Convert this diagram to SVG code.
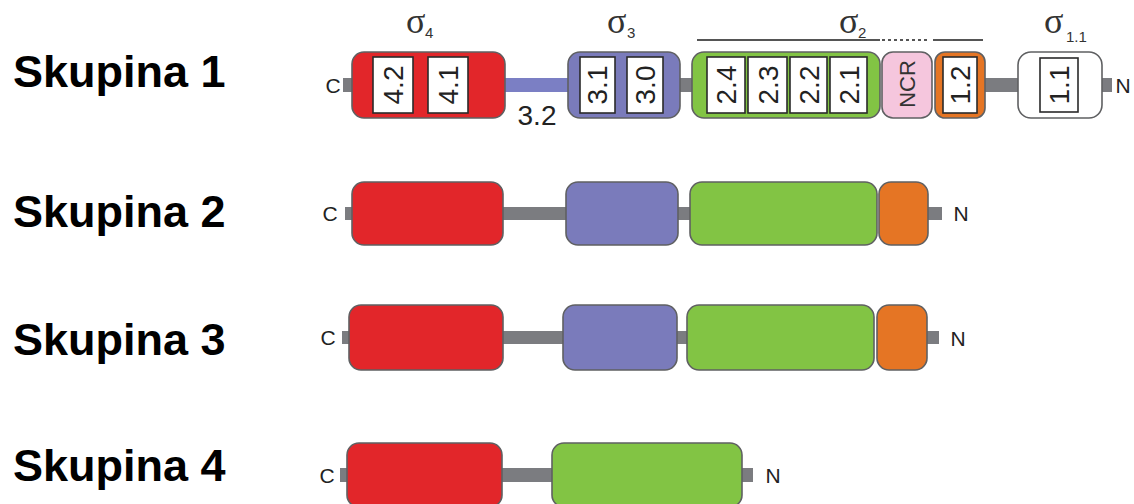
<svg xmlns="http://www.w3.org/2000/svg" width="1134" height="504" viewBox="0 0 1134 504">
<style>
.lbl{font-family:"Liberation Sans",Arial,sans-serif;font-weight:bold;font-size:45px;fill:#000}
.term{font-family:"Liberation Sans",Arial,sans-serif;font-size:21px;fill:#222}
.dom{stroke:#5f6062;stroke-width:1.6}
.red{fill:#e2262a}.blue{fill:#7a7bbb}.green{fill:#82c444}.orange{fill:#e57524}.pink{fill:#f5c6dd}.white{fill:#fff}
.link{fill:#7b7c80}
.sub{fill:#fff;stroke:#2a2a2a;stroke-width:1.6}
.num{font-family:"Liberation Sans",Arial,sans-serif;font-size:28px;fill:#222}
.ncr{font-family:"Liberation Sans",Arial,sans-serif;font-size:22px;fill:#333}
.sig{font-family:"Liberation Serif","Times New Roman",serif;font-size:36px;fill:#333}
.sigs{font-family:"Liberation Sans",Arial,sans-serif;font-size:15px;fill:#333}
</style>
<rect width="1134" height="504" fill="#fff"/>

<!-- row labels -->
<g id="label1"><text class="lbl" x="13" y="87">Skupina 1</text></g>
<g id="label2"><text class="lbl" x="13" y="227">Skupina 2</text></g>
<g id="label3"><text class="lbl" x="13" y="355">Skupina 3</text></g>
<g id="label4"><text class="lbl" x="13" y="481">Skupina 4</text></g>

<!-- connectors (linkers) -->
<g id="connectors">
  <rect class="link" x="343" y="78" width="10" height="14"/>
  <rect x="504" y="78" width="66" height="14" fill="#7b7fc4"/>
  <rect class="link" x="679" y="78" width="14" height="14"/>
  <rect class="link" x="984" y="78" width="35" height="14"/>
  <rect class="link" x="1101" y="78" width="11" height="14"/>

  <rect class="link" x="345" y="207" width="8" height="13"/>
  <rect class="link" x="502" y="207" width="65" height="13"/>
  <rect class="link" x="677" y="207" width="14" height="13"/>
  <rect class="link" x="927" y="207" width="15" height="13"/>

  <rect class="link" x="342" y="331" width="8" height="13"/>
  <rect class="link" x="502" y="331" width="62" height="13"/>
  <rect class="link" x="676" y="331" width="12" height="13"/>
  <rect class="link" x="926" y="331" width="13" height="13"/>

  <rect class="link" x="340" y="468" width="8" height="14"/>
  <rect class="link" x="501" y="468" width="52" height="14"/>
  <rect class="link" x="741" y="468" width="12" height="14"/>
</g>

<!-- Row 1 -->
<g id="r1-terms">
  <text class="term" x="333" y="93" text-anchor="middle">C</text>
  <text class="term" x="1123" y="93" text-anchor="middle" font-size="22">N</text>
  <text class="num" x="537" y="125" text-anchor="middle">3.2</text>
</g>
<g id="r1-sigma-labels">
  <text class="sig" x="406" y="33">σ</text><text class="sigs" x="425" y="38">4</text>
  <text class="sig" x="607" y="33">σ</text><text class="sigs" x="627" y="38">3</text>
  <text class="sig" x="839" y="33">σ</text><text class="sigs" x="858" y="38">2</text>
  <text class="sig" x="1044" y="33">σ</text><text class="sigs" x="1066" y="42">1.1</text>
  <line x1="697" y1="40" x2="880" y2="40" stroke="#555" stroke-width="2"/>
  <line x1="882" y1="40" x2="930" y2="40" stroke="#555" stroke-width="2" stroke-dasharray="3,3"/>
  <line x1="933" y1="40" x2="983" y2="40" stroke="#555" stroke-width="2"/>
</g>
<g id="r1-sigma4">
  <rect class="dom red" x="352" y="52" width="153" height="66" rx="12"/>
  <rect class="sub" x="373" y="57" width="40" height="56"/>
  <rect class="sub" x="428" y="57" width="40" height="56"/>
  <text class="num" transform="translate(403 85) rotate(-90)" text-anchor="middle">4.2</text>
  <text class="num" transform="translate(458 85) rotate(-90)" text-anchor="middle">4.1</text>
</g>
<g id="r1-sigma3">
  <rect class="dom blue" x="568" y="52" width="112" height="66" rx="12"/>
  <rect class="sub" x="580" y="57" width="35" height="56"/>
  <rect class="sub" x="627" y="57" width="36" height="56"/>
  <text class="num" transform="translate(607 85) rotate(-90)" text-anchor="middle">3.1</text>
  <text class="num" transform="translate(655 85) rotate(-90)" text-anchor="middle">3.0</text>
</g>
<g id="r1-sigma2">
  <rect class="dom green" x="692" y="52" width="188" height="66" rx="12"/>
  <rect class="sub" x="707" y="57" width="38" height="56"/>
  <rect class="sub" x="748" y="57" width="39" height="56"/>
  <rect class="sub" x="790" y="57" width="37" height="56"/>
  <rect class="sub" x="830" y="57" width="37" height="56"/>
  <text class="num" transform="translate(736 85) rotate(-90)" text-anchor="middle">2.4</text>
  <text class="num" transform="translate(778 85) rotate(-90)" text-anchor="middle">2.3</text>
  <text class="num" transform="translate(819 85) rotate(-90)" text-anchor="middle">2.2</text>
  <text class="num" transform="translate(859 85) rotate(-90)" text-anchor="middle">2.1</text>
</g>
<g id="r1-ncr">
  <rect class="dom pink" x="882" y="52" width="50" height="66" rx="11"/>
  <text class="ncr" transform="translate(915 84) rotate(-90)" text-anchor="middle">NCR</text>
</g>
<g id="r1-sigma12">
  <rect class="dom orange" x="935" y="52" width="50" height="66" rx="10"/>
  <rect class="sub" x="943" y="57" width="34" height="56"/>
  <text class="num" transform="translate(970 85) rotate(-90)" text-anchor="middle">1.2</text>
</g>
<g id="r1-sigma11">
  <rect class="dom white" x="1018" y="52" width="84" height="66" rx="13"/>
  <rect class="sub" x="1040" y="58" width="38" height="54"/>
  <text class="num" transform="translate(1069 85) rotate(-90)" text-anchor="middle">1.1</text>
</g>

<!-- Row 2 -->
<g id="r2-terms">
  <text class="term" x="330" y="221" text-anchor="middle">C</text>
  <text class="term" x="961" y="221" text-anchor="middle" font-size="22">N</text>
</g>
<g id="r2-sigma4"><rect class="dom red" x="352" y="182" width="151" height="63" rx="12"/></g>
<g id="r2-sigma3"><rect class="dom blue" x="566" y="182" width="112" height="63" rx="12"/></g>
<g id="r2-sigma2"><rect class="dom green" x="690" y="182" width="187" height="63" rx="12"/></g>
<g id="r2-sigma1"><rect class="dom orange" x="879" y="182" width="49" height="63" rx="12"/></g>

<!-- Row 3 -->
<g id="r3-terms">
  <text class="term" x="328" y="345" text-anchor="middle">C</text>
  <text class="term" x="958" y="346" text-anchor="middle" font-size="22">N</text>
</g>
<g id="r3-sigma4"><rect class="dom red" x="349" y="305" width="154" height="65" rx="12"/></g>
<g id="r3-sigma3"><rect class="dom blue" x="563" y="305" width="114" height="65" rx="12"/></g>
<g id="r3-sigma2"><rect class="dom green" x="687" y="305" width="187" height="65" rx="12"/></g>
<g id="r3-sigma1"><rect class="dom orange" x="877" y="305" width="50" height="65" rx="12"/></g>

<!-- Row 4 -->
<g id="r4-terms">
  <text class="term" x="327" y="483" text-anchor="middle">C</text>
  <text class="term" x="773" y="483" text-anchor="middle" font-size="22">N</text>
</g>
<g id="r4-sigma4"><rect class="dom red" x="347" y="443" width="155" height="64" rx="12"/></g>
<g id="r4-sigma2"><rect class="dom green" x="552" y="443" width="190" height="64" rx="12"/></g>
</svg>
